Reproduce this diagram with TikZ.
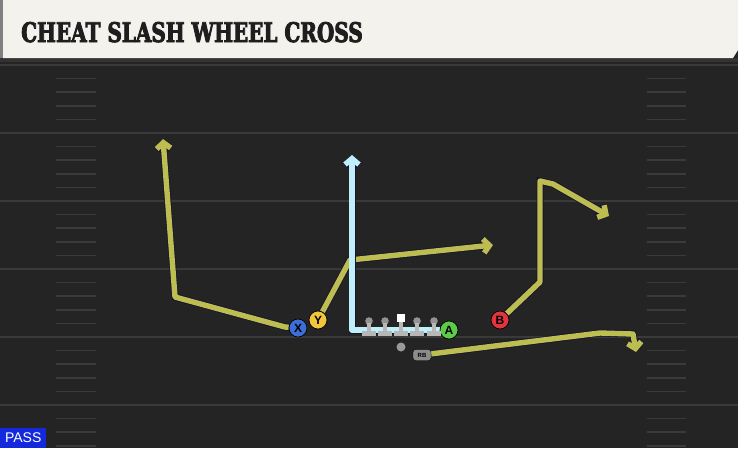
\documentclass[tikz,border=0pt]{standalone}
\usepackage{fontspec}
\setsansfont{Liberation Sans}
\newfontfamily\titlefont{DejaVu Serif}[FakeStretch=0.74, FakeBold=3]
\usetikzlibrary{arrows.meta}
\pgfdeclarelayer{back}
\pgfdeclarelayer{bg}
\pgfsetlayers{back,bg,main}
\definecolor{turf}{HTML}{242424}
\definecolor{yardgray}{HTML}{3A3A3A}
\definecolor{cream}{HTML}{F4F2EC}
\definecolor{inkdark}{HTML}{1E1E1E}
\definecolor{routeolive}{HTML}{BDBD52}
\definecolor{routesky}{HTML}{BFEFFB}
\definecolor{rimnavy}{HTML}{15152E}
\definecolor{xblue}{HTML}{3C6ED8}
\definecolor{yyellow}{HTML}{F2C63C}
\definecolor{agreen}{HTML}{5DCB4A}
\definecolor{bred}{HTML}{E0343F}
\definecolor{linegray}{HTML}{B8B8B8}
\definecolor{passblue}{HTML}{1428DC}
\tikzset{
    player/.style={circle, draw=black, line width=0.7pt, inner sep=0pt, minimum size=18pt, font=\sffamily\bfseries\fontsize{12}{12}\selectfont},
    route/.style={draw=routeolive, line width=5.4pt, line join=round, -{Straight Barb[length=6pt, width=14pt]},
        preaction={draw=rimnavy, line width=7pt}},
    yardline/.style={draw=yardgray, line width=2pt},
    hash/.style={draw=yardgray, line width=1.5pt}
}

\begin{document}
\begin{tikzpicture}[x=1pt, y=-1pt]
    \useasboundingbox (0,0) rectangle (738,448);

    \begin{pgfonlayer}{back}
        \fill[turf] (0,0) rectangle (738,448);
        \foreach \i in {0,...,28} {
            \pgfmathsetmacro{\yy}{65+13.6*\i}
            \pgfmathtruncatemacro{\m}{mod(\i,5)}
            \ifnum\m=0
                \draw[yardline] (0,\yy) -- (738,\yy);
            \else
                \draw[hash] (56,\yy) -- (96,\yy) (647,\yy) -- (686,\yy);
            \fi
        }
        \fill[black!80] (0,58) rectangle (738,62);
        \fill[cream] (3,0) -- (738,0) -- (738,50) -- (733,58) -- (3,58) -- cycle;
        \fill[gray] (0,0) rectangle (3,58);
    \end{pgfonlayer}

    \node (title) at (21,42) [anchor=base west, inner sep=0pt, text=inkdark,
        font=\titlefont\bfseries\fontsize{27}{27}\selectfont] {CHEAT SLASH WHEEL CROSS};

    \node (X) at (298,328) [player, fill=xblue] {X};
    \node (Y) at (318,320) [player, fill=yyellow] {Y};
    \node (A) at (449,330) [player, fill=agreen] {A};
    \node (B) at (500,320) [player, fill=bred] {B};
    \node (RB) at (422,355) [draw=black, fill=gray!90, rounded corners=2.5pt, inner sep=0pt,
        minimum width=18pt, minimum height=11pt, font=\sffamily\bfseries\fontsize{6}{6}\selectfont] {RB};
    \node (ball) at (401,347) [circle, fill=gray!80, inner sep=0pt, minimum size=9pt] {};

    \coordinate (x1) at (285,327);
    \coordinate (x2) at (175,297);
    \coordinate (x3) at (163,139);
    \coordinate (y1) at (350,260);
    \coordinate (y2) at (493,245);
    \coordinate (a1) at (352,330);
    \coordinate (a2) at (352,155);
    \coordinate (b1) at (540,282);
    \coordinate (b2) at (540,181);
    \coordinate (b3) at (553,184);
    \coordinate (b4) at (609,216);
    \coordinate (r1) at (600,333);
    \coordinate (r2) at (633,334);
    \coordinate (r3) at (636,352);

    \begin{pgfonlayer}{bg}
        \draw[route] (X) -- (x1) -- (x2) -- (x3);
        \draw[route] (Y) -- (y1) -- (y2);
        \draw[route, draw=routesky] (A) -- (a1) -- (a2);
        \draw[route] (B) -- (b1) -- (b2) -- (b3) -- (b4);
        \draw[route] (RB) -- (r1) -- (r2) -- (r3);
    \end{pgfonlayer}

    \foreach \lx in {369,385,417,434} {
        \fill[linegray!80!black] (\lx,321) circle (3.8);
        \fill[linegray] (\lx-1.6,323) rectangle (\lx+1.6,331);
        \fill[linegray] (\lx-7,330.5) rectangle (\lx+7,335.5);
    }
    \fill[white] (397,314) rectangle (405,322);
    \fill[linegray] (399.4,322) rectangle (402.6,331);
    \fill[linegray] (394,330.5) rectangle (408,335.5);

    \node (pass) at (0,448) [anchor=south west, fill=passblue, inner sep=0pt, minimum width=46pt,
        minimum height=20pt, text=white, font=\sffamily\fontsize{14}{14}\selectfont] {PASS};
\end{tikzpicture}
\end{document}
